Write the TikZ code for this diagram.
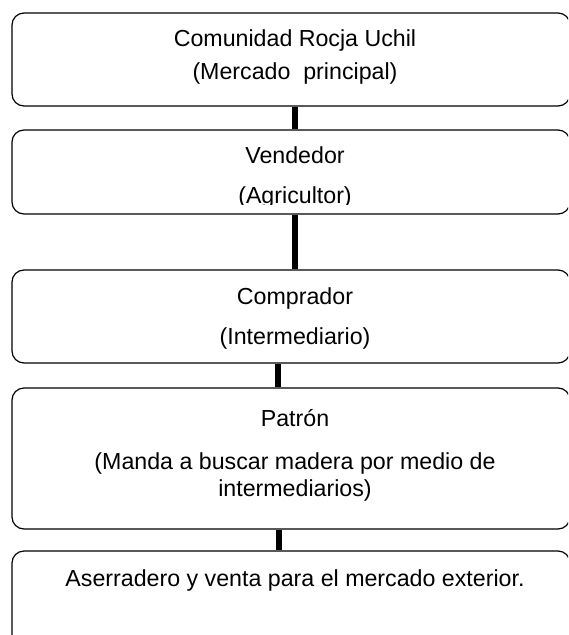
\documentclass[tikz,border=0pt]{standalone}
\usepackage{fontspec}
\setmainfont{Liberation Sans}
\usetikzlibrary{positioning}
\tikzset{
  flowbox/.style={draw, rounded corners=9pt, line width=0.9pt, minimum width=418.5pt, inner sep=0pt},
  flowtext/.style={anchor=base, inner sep=0pt, font=\fontsize{17.4}{21}\selectfont},
  link/.style={line width=3.8pt}
}

\begin{document}
\begin{tikzpicture}[x=0.75pt, y=-0.75pt]
      \useasboundingbox (0,0) rectangle (568,635);
      \clip (0,0) rectangle (568,635);
      %% Boxes
      \node[flowbox, minimum height=69.75pt] (comunidad) at (291,59.5) {};
      \node[flowbox, minimum height=63pt] (vendedor) at (291,172) {};
      \node[flowbox, minimum height=69.75pt] (comprador) at (291,316.5) {};
      \node[flowbox, minimum height=105.75pt] (patron) at (291,458.5) {};
      \node[flowbox, minimum height=81.75pt] (aserradero) at (291,605.5) {};
      %% Texts
      \node[flowtext] (comunidadA) at (295,46.5) {Comunidad Rocja Uchil};
      \node[flowtext] (comunidadB) at (295,79.5) {(Mercado~ principal)};
      \node[flowtext] (vendedorA) at (295,163) {Vendedor};
      \begin{scope}
        \clip (0,0) rectangle (568,204.5);
        \node[flowtext] (vendedorB) at (295,203.5) {(Agricultor)};
      \end{scope}
      \node[flowtext] (compradorA) at (295,304) {Comprador};
      \node[flowtext] (compradorB) at (295,344) {(Intermediario)};
      \node[flowtext] (patronA) at (295,426) {Patrón};
      \node[flowtext] (patronB) at (295,469) {(Manda a buscar madera por medio de};
      \node[flowtext] (patronC) at (295,496) {intermediarios)};
      \node[flowtext] (aserraderoA) at (295,586) {Aserradero y venta para el mercado exterior.};
      %% Links
      \draw[link] ([xshift=3pt]comunidad.south) -- ([xshift=3pt]vendedor.north);
      \draw[link] ([xshift=3pt]vendedor.south) -- ([xshift=3pt]comprador.north);
      \draw[link] ([xshift=-9.75pt]comprador.south) -- ([xshift=-9.75pt]patron.north);
      \draw[link] ([xshift=-9pt]patron.south) -- ([xshift=-9pt]aserradero.north);
\end{tikzpicture}
\end{document}
